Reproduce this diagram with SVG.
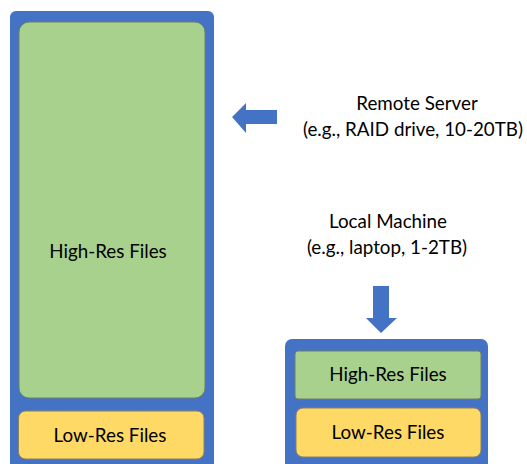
<svg xmlns="http://www.w3.org/2000/svg" width="527" height="464" viewBox="0 0 527 464">
<style>
.outer{fill:#4472C4}
.hi{fill:#A9D18E;stroke:#6F7F66;stroke-width:1}
.lo{fill:#FFD966;stroke:#8C8060;stroke-width:1}
.arrow{fill:#4472C4}
text{font-family:Lato,"Open Sans","Liberation Sans",sans-serif;font-size:18.8px;fill:#000;text-anchor:middle}
</style>
<rect width="527" height="464" fill="#fff"/>
<g id="remote-server">
<rect class="outer" x="10" y="11" width="204" height="470" rx="6"/>
<g id="remote-high"><rect class="hi" x="19" y="22" width="186" height="376" rx="10"/><text x="108" y="258">High-Res Files</text></g>
<g id="remote-low"><rect class="lo" x="18.5" y="411" width="185.5" height="48" rx="7"/><text x="110" y="442">Low-Res Files</text></g>
</g>
<g id="local-machine">
<rect class="outer" x="285" y="339" width="203" height="150" rx="7"/>
<g id="local-high"><rect class="hi" x="295" y="351" width="186" height="48" rx="3"/><text x="388" y="381">High-Res Files</text></g>
<g id="local-low"><rect class="lo" x="296" y="408" width="185" height="49" rx="7"/><text x="388" y="439">Low-Res Files</text></g>
</g>
<g id="labels">
<text x="417" y="110">Remote Server</text>
<text x="413" y="136">(e.g., RAID drive, 10-20TB)</text>
<text x="388" y="228">Local Machine</text>
<text x="387" y="254">(e.g., laptop, 1-2TB)</text>
</g>
<g id="connectors">
<polygon class="arrow" points="232,117 246,103 246,110 277,110 277,124 246,124 246,133"/>
<polygon class="arrow" points="373,286 389,286 389,318 397,318 381,333 366,318 373,318"/>
</g>
</svg>
